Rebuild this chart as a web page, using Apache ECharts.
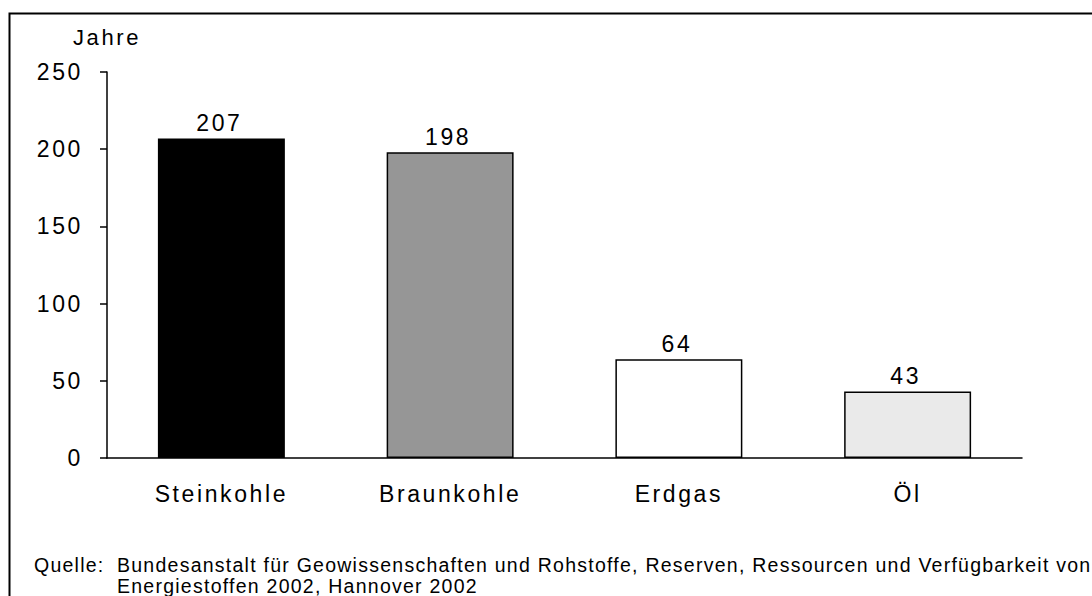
<!DOCTYPE html>
<html>
<head>
<meta charset="utf-8">
<title>Reichweite</title>
<script src="https://cdn.jsdelivr.net/npm/echarts@6/dist/echarts.min.js"></script>
<style>
  html, body { margin: 0; padding: 0; background: #fff; }
  #main { width: 1092px; height: 596px; }
  /* alte PowerPoint-Schrift ist stark gesperrt */
  #main text { letter-spacing: 2.6px; }
  #main text[style*="Liberation"] { letter-spacing: 1.25px; }
</style>
</head>
<body>
<div id="main"></div>
<script>
// Daten
var categories = ['Steinkohle', 'Braunkohle', 'Erdgas', 'Öl'];
var jahre = [207, 198, 64, 43];
var barColors = ['#000000', '#969696', '#ffffff', '#eaeaea'];
var yTicks = [0, 50, 100, 150, 200, 250];

var quelle1 = 'Bundesanstalt für Geowissenschaften und Rohstoffe, Reserven, Ressourcen und Verfügbarkeit von';
var quelle2 = 'Energiestoffen 2002, Hannover 2002';

var font = 'Arial, sans-serif';
var quelleFont = '"Liberation Sans", Arial';

var chart = echarts.init(document.getElementById('main'), null, { renderer: 'svg' });

var option = {
  animation: false,
  backgroundColor: '#fff',
  grid: { left: 107, right: 70, top: 72, bottom: 138 },
  xAxis: {
    type: 'category',
    data: categories,
    axisLine: { lineStyle: { color: '#000', width: 1.5 } },
    axisTick: { length: 7, lineStyle: { color: '#000', width: 1.5 } },
    axisLabel: { color: '#000', fontSize: 23, fontFamily: font, margin: 24 }
  },
  yAxis: {
    type: 'value',
    min: yTicks[0],
    max: yTicks[yTicks.length - 1],
    interval: 50,
    name: 'Jahre',
    nameLocation: 'end',
    nameGap: 24,
    nameTextStyle: { color: '#000', fontSize: 22, fontFamily: font, align: 'center' },
    axisLine: { show: true, lineStyle: { color: '#000', width: 1.5 } },
    axisTick: { show: true, length: 7, lineStyle: { color: '#000', width: 1.5 } },
    axisLabel: { color: '#000', fontSize: 23, fontFamily: font, margin: 24 },
    splitLine: { show: false }
  },
  series: [{
    type: 'bar',
    barWidth: '55.5%',
    data: jahre.map(function (v, i) {
      return { value: v, itemStyle: { color: barColors[i] } };
    }),
    itemStyle: { borderColor: '#000', borderWidth: 1.5 },
    label: {
      show: true,
      position: 'top',
      distance: 4,
      offset: [-2, 0],
      color: '#000',
      fontSize: 23,
      fontFamily: font
    }
  }],
  graphic: [
    {
      type: 'rect',
      shape: { x: 9.5, y: 13.5, width: 1200, height: 700 },
      style: { fill: 'none', stroke: '#000', lineWidth: 2 },
      silent: true
    },
    {
      type: 'text', left: 34, top: 555,
      style: { text: 'Quelle:', fill: '#000', fontSize: 19.5, fontFamily: quelleFont }
    },
    {
      type: 'text', left: 117, top: 555,
      style: { text: quelle1, fill: '#000', fontSize: 19.5, fontFamily: quelleFont }
    },
    {
      type: 'text', left: 117, top: 576,
      style: { text: quelle2, fill: '#000', fontSize: 19.5, fontFamily: quelleFont }
    }
  ]
};

chart.setOption(option);
</script>
</body>
</html>
